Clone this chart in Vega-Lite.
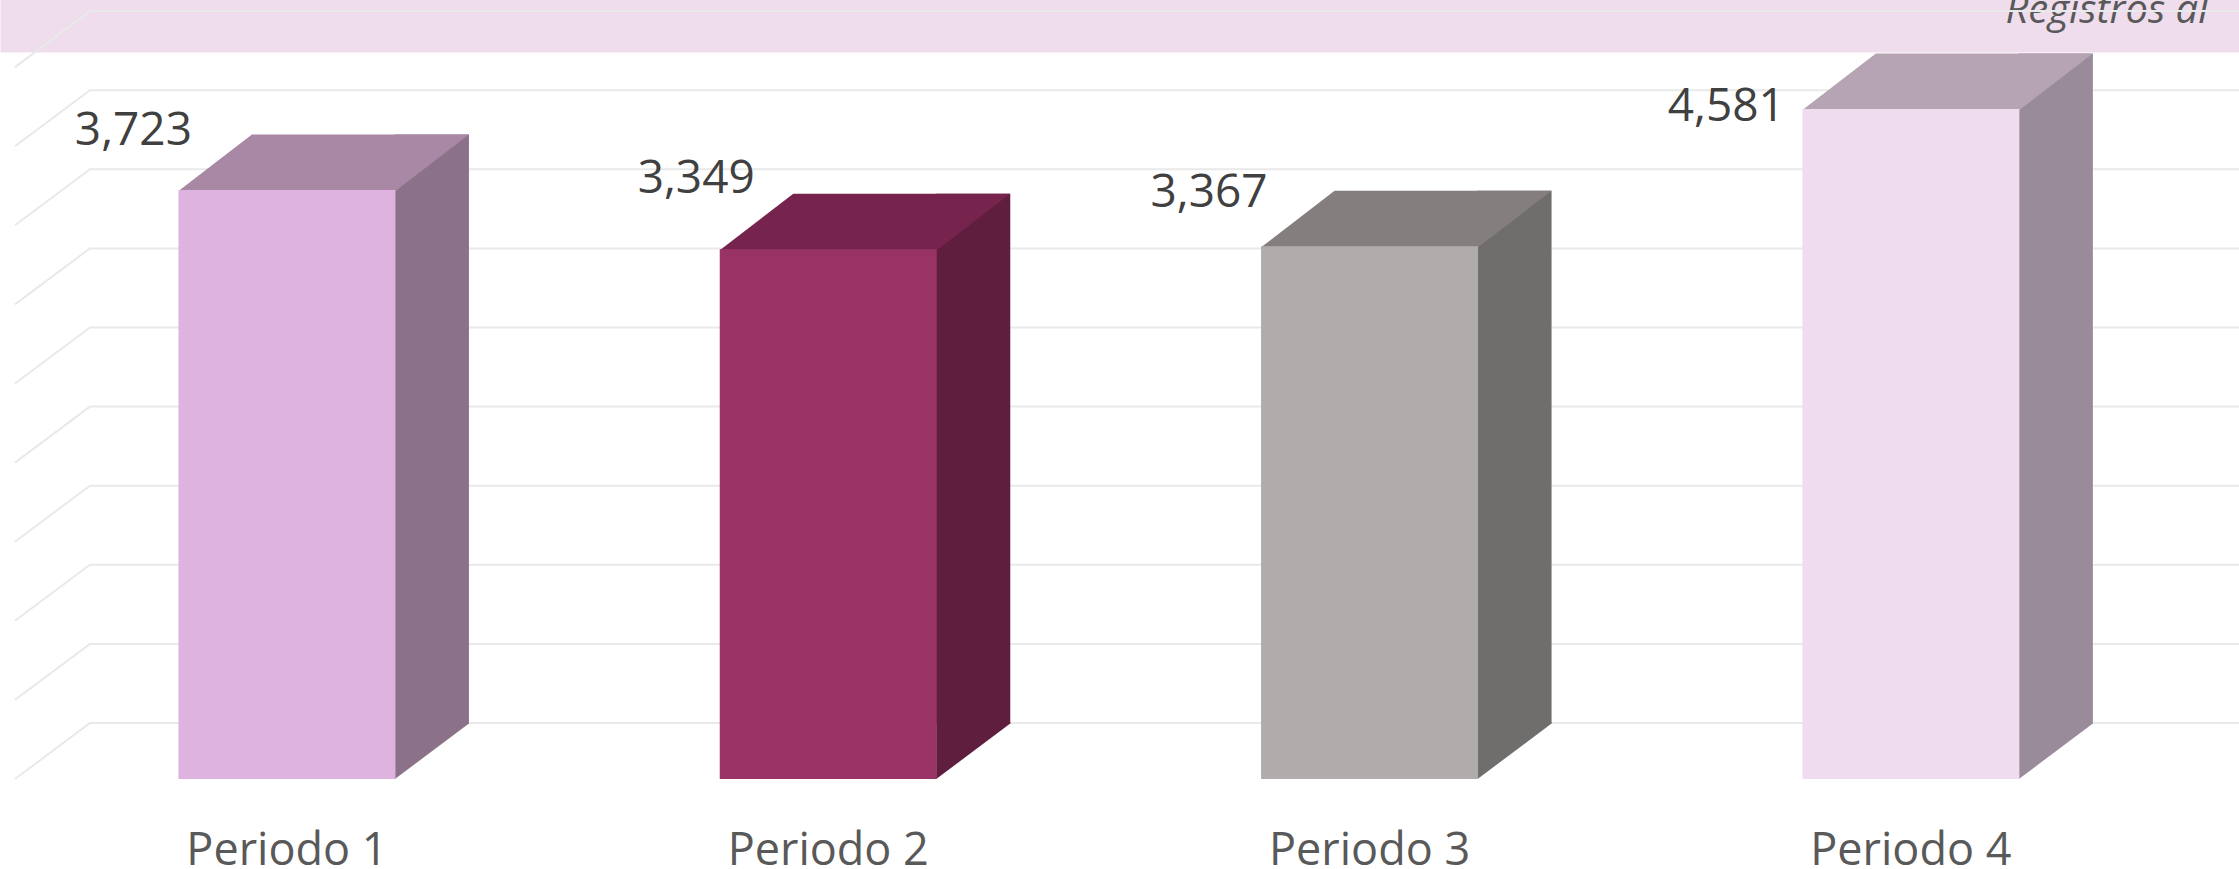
{
  "$schema": "https://vega.github.io/schema/vega-lite/v6.json",
  "width": 2239,
  "height": 779,
  "autosize": {"type": "none"},
  "padding": {"left": 0, "right": 0, "top": 0, "bottom": 90},
  "background": "white",
  "config": {"view": {"stroke": null}},
  "datasets": {
    "periodos": [
      {"periodo": "Periodo 1", "valor": 3723, "barra": 3723},
      {"periodo": "Periodo 2", "valor": 3349, "barra": 3349},
      {"periodo": "Periodo 3", "valor": 3367, "barra": 3367},
      {"periodo": "Periodo 4", "valor": 4581, "barra": 4235}
    ],
    "lineas": [
      {"v": 0}, {"v": 500}, {"v": 1000}, {"v": 1500}, {"v": 2000},
      {"v": 2500}, {"v": 3000}, {"v": 3500}, {"v": 4000}, {"v": 4500}
    ]
  },
  "data": {"name": "periodos"},
  "resolve": {"axis": {"x": "independent"}, "scale": {"color": "independent"}},
  "layer": [
    {
      "mark": {"type": "point", "opacity": 0},
      "encoding": {
        "x": {
          "field": "periodo", "type": "nominal",
          "scale": {"domain": ["Periodo 1", "Periodo 2", "Periodo 3", "Periodo 4"], "paddingInner": 0, "paddingOuter": 0.06815, "align": 0.2209},
          "axis": {
            "orient": "top", "labels": false, "ticks": false, "grid": false,
            "domain": true, "domainColor": "#EFDDEE", "domainWidth": 104, "domainCap": "butt",
            "title": "Registros al", "titleX": 2005, "titleY": 22, "titleAlign": "left",
            "titleBaseline": "alphabetic", "titleAngle": 0, "titleFont": "Open Sans",
            "titleFontSize": 40, "titleFontStyle": "italic", "titleFontWeight": "normal",
            "titleColor": "#595959", "titleLimit": 0
          }
        },
        "y": {"field": "barra", "type": "quantitative", "scale": {"domain": [0, 4924], "nice": false, "zero": true}, "axis": null}
      }
    },
    {
      "data": {"name": "lineas"},
      "mark": {"type": "point", "shape": "M-272,0 L-197,-56 L1960,-56", "size": 4, "filled": false, "stroke": "#E9E9E9", "strokeWidth": 2, "opacity": 1},
      "encoding": {
        "x": {"datum": "Periodo 1", "type": "nominal", "axis": null},
        "y": {"field": "v", "type": "quantitative", "axis": null}
      }
    },
    {
      "mark": {"type": "bar", "width": 74.5, "xOffset": 144.75, "yOffset": -55.5, "y2Offset": -55.5, "opacity": 1},
      "encoding": {
        "x": {"field": "periodo", "type": "nominal", "axis": null},
        "y": {"field": "barra", "type": "quantitative", "axis": null},
        "color": {"field": "periodo", "type": "nominal", "legend": null,
          "scale": {"domain": ["Periodo 1", "Periodo 2", "Periodo 3", "Periodo 4"], "range": ["#8C7289", "#5F1E3E", "#706D6D", "#998B99"]}}
      }
    },
    {
      "mark": {"type": "point", "shape": "M108,0 L108,-57 L182,-57 L182,-55.5 Z", "size": 4, "filled": true, "strokeWidth": 0, "opacity": 1},
      "encoding": {
        "x": {"field": "periodo", "type": "nominal", "axis": null},
        "y": {"datum": 0, "type": "quantitative", "axis": null},
        "color": {"field": "periodo", "type": "nominal", "legend": null,
          "scale": {"domain": ["Periodo 1", "Periodo 2", "Periodo 3", "Periodo 4"], "range": ["#8C7289", "#5F1E3E", "#706D6D", "#998B99"]}}
      }
    },
    {
      "mark": {"type": "point", "shape": "M-108.5,1 L108.5,1 L182,-55.5 L-35,-55.5 Z", "size": 4, "filled": true, "strokeWidth": 0, "opacity": 1},
      "encoding": {
        "x": {"field": "periodo", "type": "nominal", "axis": null},
        "y": {"field": "barra", "type": "quantitative", "axis": null},
        "color": {"field": "periodo", "type": "nominal", "legend": null,
          "scale": {"domain": ["Periodo 1", "Periodo 2", "Periodo 3", "Periodo 4"], "range": ["#A988A6", "#76244D", "#847F7E", "#B6A4B4"]}}
      }
    },
    {
      "mark": {"type": "bar", "width": 217, "opacity": 1},
      "encoding": {
        "x": {"field": "periodo", "type": "nominal",
          "axis": {"orient": "bottom", "labelBaseline": "alphabetic", "labelPadding": 85, "tickSize": 0, "ticks": false,
            "domain": false, "grid": false, "title": null, "labelAngle": 0, "labelFont": "Open Sans",
            "labelFontSize": 45, "labelColor": "#595959", "labelLimit": 0, "labelOverlap": false}},
        "y": {"field": "barra", "type": "quantitative", "axis": null},
        "color": {"field": "periodo", "type": "nominal", "legend": null,
          "scale": {"domain": ["Periodo 1", "Periodo 2", "Periodo 3", "Periodo 4"], "range": ["#DFB3DF", "#993366", "#AFACAB", "#F0DCEF"]}}
      }
    },
    {
      "transform": [{"filter": "datum.periodo == 'Periodo 1'"}],
      "mark": {"type": "text", "align": "right", "baseline": "alphabetic", "dx": -95, "dy": -45, "font": "Open Sans", "fontSize": 46, "color": "#404040"},
      "encoding": {
        "x": {"field": "periodo", "type": "nominal", "axis": null},
        "y": {"field": "barra", "type": "quantitative", "axis": null},
        "text": {"field": "valor", "type": "quantitative", "format": ",d"}
      }
    },
    {
      "transform": [{"filter": "datum.periodo == 'Periodo 2'"}],
      "mark": {"type": "text", "align": "right", "baseline": "alphabetic", "dx": -73.5, "dy": -56, "font": "Open Sans", "fontSize": 46, "color": "#404040"},
      "encoding": {
        "x": {"field": "periodo", "type": "nominal", "axis": null},
        "y": {"field": "barra", "type": "quantitative", "axis": null},
        "text": {"field": "valor", "type": "quantitative", "format": ",d"}
      }
    },
    {
      "transform": [{"filter": "datum.periodo == 'Periodo 3'"}],
      "mark": {"type": "text", "align": "right", "baseline": "alphabetic", "dx": -102, "dy": -39, "font": "Open Sans", "fontSize": 46, "color": "#404040"},
      "encoding": {
        "x": {"field": "periodo", "type": "nominal", "axis": null},
        "y": {"field": "barra", "type": "quantitative", "axis": null},
        "text": {"field": "valor", "type": "quantitative", "format": ",d"}
      }
    },
    {
      "transform": [{"filter": "datum.periodo == 'Periodo 4'"}],
      "mark": {"type": "text", "align": "right", "baseline": "alphabetic", "dx": -126, "dy": 12, "font": "Open Sans", "fontSize": 46, "color": "#404040"},
      "encoding": {
        "x": {"field": "periodo", "type": "nominal", "axis": null},
        "y": {"field": "barra", "type": "quantitative", "axis": null},
        "text": {"field": "valor", "type": "quantitative", "format": ",d"}
      }
    }
  ]
}
